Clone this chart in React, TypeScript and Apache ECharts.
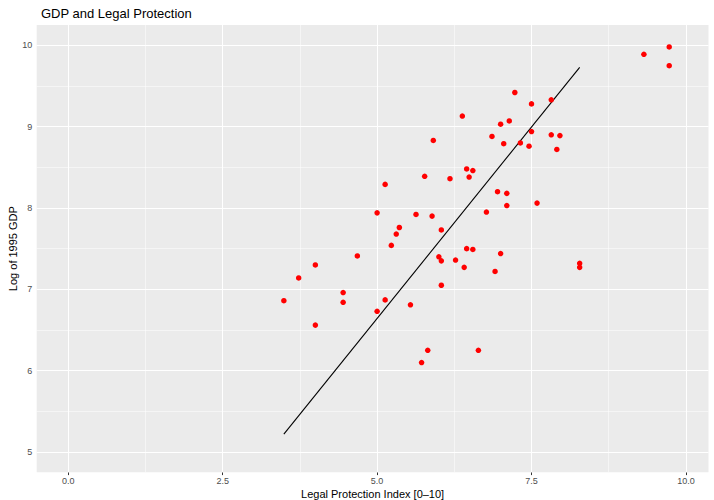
import React, { useEffect, useRef } from "react";
import * as echarts from "echarts";

// Legal protection index (0–10) and log of 1995 GDP per country
const legalIndex = [
  3.49, 3.73, 4.0, 4.0, 4.45, 4.45, 4.68, 5.0, 5.0, 5.13, 5.13, 5.23, 5.31, 5.36, 5.54,
  5.63, 5.72, 5.77, 5.82, 5.89, 5.91, 6.0, 6.04, 6.04, 6.04, 6.18, 6.27, 6.38, 6.41, 6.45,
  6.45, 6.49, 6.55, 6.55, 6.64, 6.77, 6.86, 6.91, 6.95, 7.0, 7.0, 7.05, 7.1, 7.1, 7.14,
  7.23, 7.32, 7.46, 7.5, 7.5, 7.59, 7.82, 7.82, 7.91, 7.96, 8.28, 8.28, 9.32, 9.73, 9.73,
];
const logGdp = [
  6.86, 7.14, 7.3, 6.56, 6.96, 6.84, 7.41, 6.73, 7.94, 8.29, 6.87, 7.54, 7.68, 7.76, 6.81,
  7.92, 6.1, 8.39, 6.25, 7.9, 8.83, 7.4, 7.73, 7.35, 7.05, 8.36, 7.36, 9.13, 7.27, 8.48,
  7.5, 8.38, 8.46, 7.49, 6.25, 7.95, 8.88, 7.22, 8.2, 9.03, 7.44, 8.79, 8.18, 8.03, 9.07,
  9.42, 8.8, 8.76, 9.28, 8.94, 8.06, 9.33, 8.9, 8.72, 8.89, 7.32, 7.27, 9.89, 9.98, 9.75,
];

// Fitted line endpoints
const fitX = [3.49, 8.28];
const fitY = [5.22, 9.73];

// Axis breaks
const xBreaks = [0, 2.5, 5, 7.5, 10];
const xMinorBreaks = [1.25, 3.75, 6.25, 8.75];
const yBreaks = [5, 6, 7, 8, 9, 10];
const yMinorBreaks = [5.5, 6.5, 7.5, 8.5, 9.5];

const FONT = "'Liberation Sans', Arial, Helvetica, sans-serif";

export default function App() {
  const ref = useRef<HTMLDivElement>(null);

  useEffect(() => {
    if (!ref.current) return;
    const chart = echarts.init(ref.current, undefined, { renderer: "svg" });

    const major = { color: "#FFFFFF", width: 1.07, type: "solid" as const };
    const minor = { color: "#FFFFFF", width: 0.53, type: "solid" as const };
    const gridLines = [
      ...xMinorBreaks.map((v) => ({ xAxis: v, lineStyle: minor })),
      ...yMinorBreaks.map((v) => ({ yAxis: v, lineStyle: minor })),
      ...xBreaks.map((v) => ({ xAxis: v, lineStyle: major })),
      ...yBreaks.map((v) => ({ yAxis: v, lineStyle: major })),
    ];

    const points = legalIndex.map((x, i) => [x, logGdp[i]]);
    const fit = fitX.map((x, i) => [x, fitY[i]]);

    chart.setOption({
      animation: false,
      backgroundColor: "#FFFFFF",
      title: {
        text: "GDP and Legal Protection",
        left: 36,
        top: 2,
        textStyle: { fontFamily: FONT, fontSize: 13, fontWeight: "normal", color: "#000000" },
      },
      grid: {
        left: 36.7,
        right: 5.5,
        top: 25,
        bottom: 27.7,
        show: true,
        backgroundColor: "#EBEBEB",
        borderWidth: 0,
        containLabel: false,
        outerBoundsMode: "none",
      },
      xAxis: {
        type: "value",
        min: -0.512,
        max: 10.366,
        name: "Legal Protection Index [0–10]",
        nameLocation: "middle",
        nameGap: 16,
        nameMoveOverlap: false,
        nameTextStyle: { fontFamily: FONT, fontSize: 11, color: "#000000" },
        axisLine: { show: false },
        splitLine: { show: false },
        axisTick: {
          show: true,
          length: 2.8,
          lineStyle: { color: "#333333", width: 1 },
          customValues: xBreaks,
        },
        axisLabel: {
          customValues: xBreaks,
          formatter: (v: number) => v.toFixed(1),
          color: "#4D4D4D",
          fontSize: 9,
          fontFamily: FONT,
          margin: 4.5,
        },
      },
      yAxis: {
        type: "value",
        min: 4.75,
        max: 10.25,
        name: "Log of 1995 GDP",
        nameLocation: "middle",
        nameGap: 18,
        nameMoveOverlap: false,
        nameTextStyle: { fontFamily: FONT, fontSize: 11, color: "#000000" },
        axisLine: { show: false },
        splitLine: { show: false },
        axisTick: {
          show: true,
          length: 2.8,
          lineStyle: { color: "#333333", width: 1 },
          customValues: yBreaks,
        },
        axisLabel: {
          customValues: yBreaks,
          formatter: (v: number) => String(Math.round(v)),
          color: "#4D4D4D",
          fontSize: 9,
          fontFamily: FONT,
          margin: 4.5,
        },
      },
      series: [
        {
          type: "scatter",
          data: [],
          silent: true,
          z: 1,
          markLine: {
            silent: true,
            z: 1,
            symbol: ["none", "none"],
            label: { show: false },
            emphasis: { disabled: true },
            data: gridLines,
          },
        },
        {
          type: "line",
          data: fit,
          symbol: "none",
          showSymbol: false,
          silent: true,
          lineStyle: { color: "#000000", width: 1.1 },
          z: 8,
        },
        {
          type: "scatter",
          data: points,
          symbol: "circle",
          symbolSize: 5.5,
          itemStyle: { color: "#FF0000", opacity: 1, borderWidth: 0 },
          z: 10,
        },
      ],
    });

    return () => chart.dispose();
  }, []);

  return (
    <div
      ref={ref}
      style={{ position: "fixed", left: 0, top: 0, width: 714, height: 500, background: "#FFFFFF" }}
    />
  );
}
